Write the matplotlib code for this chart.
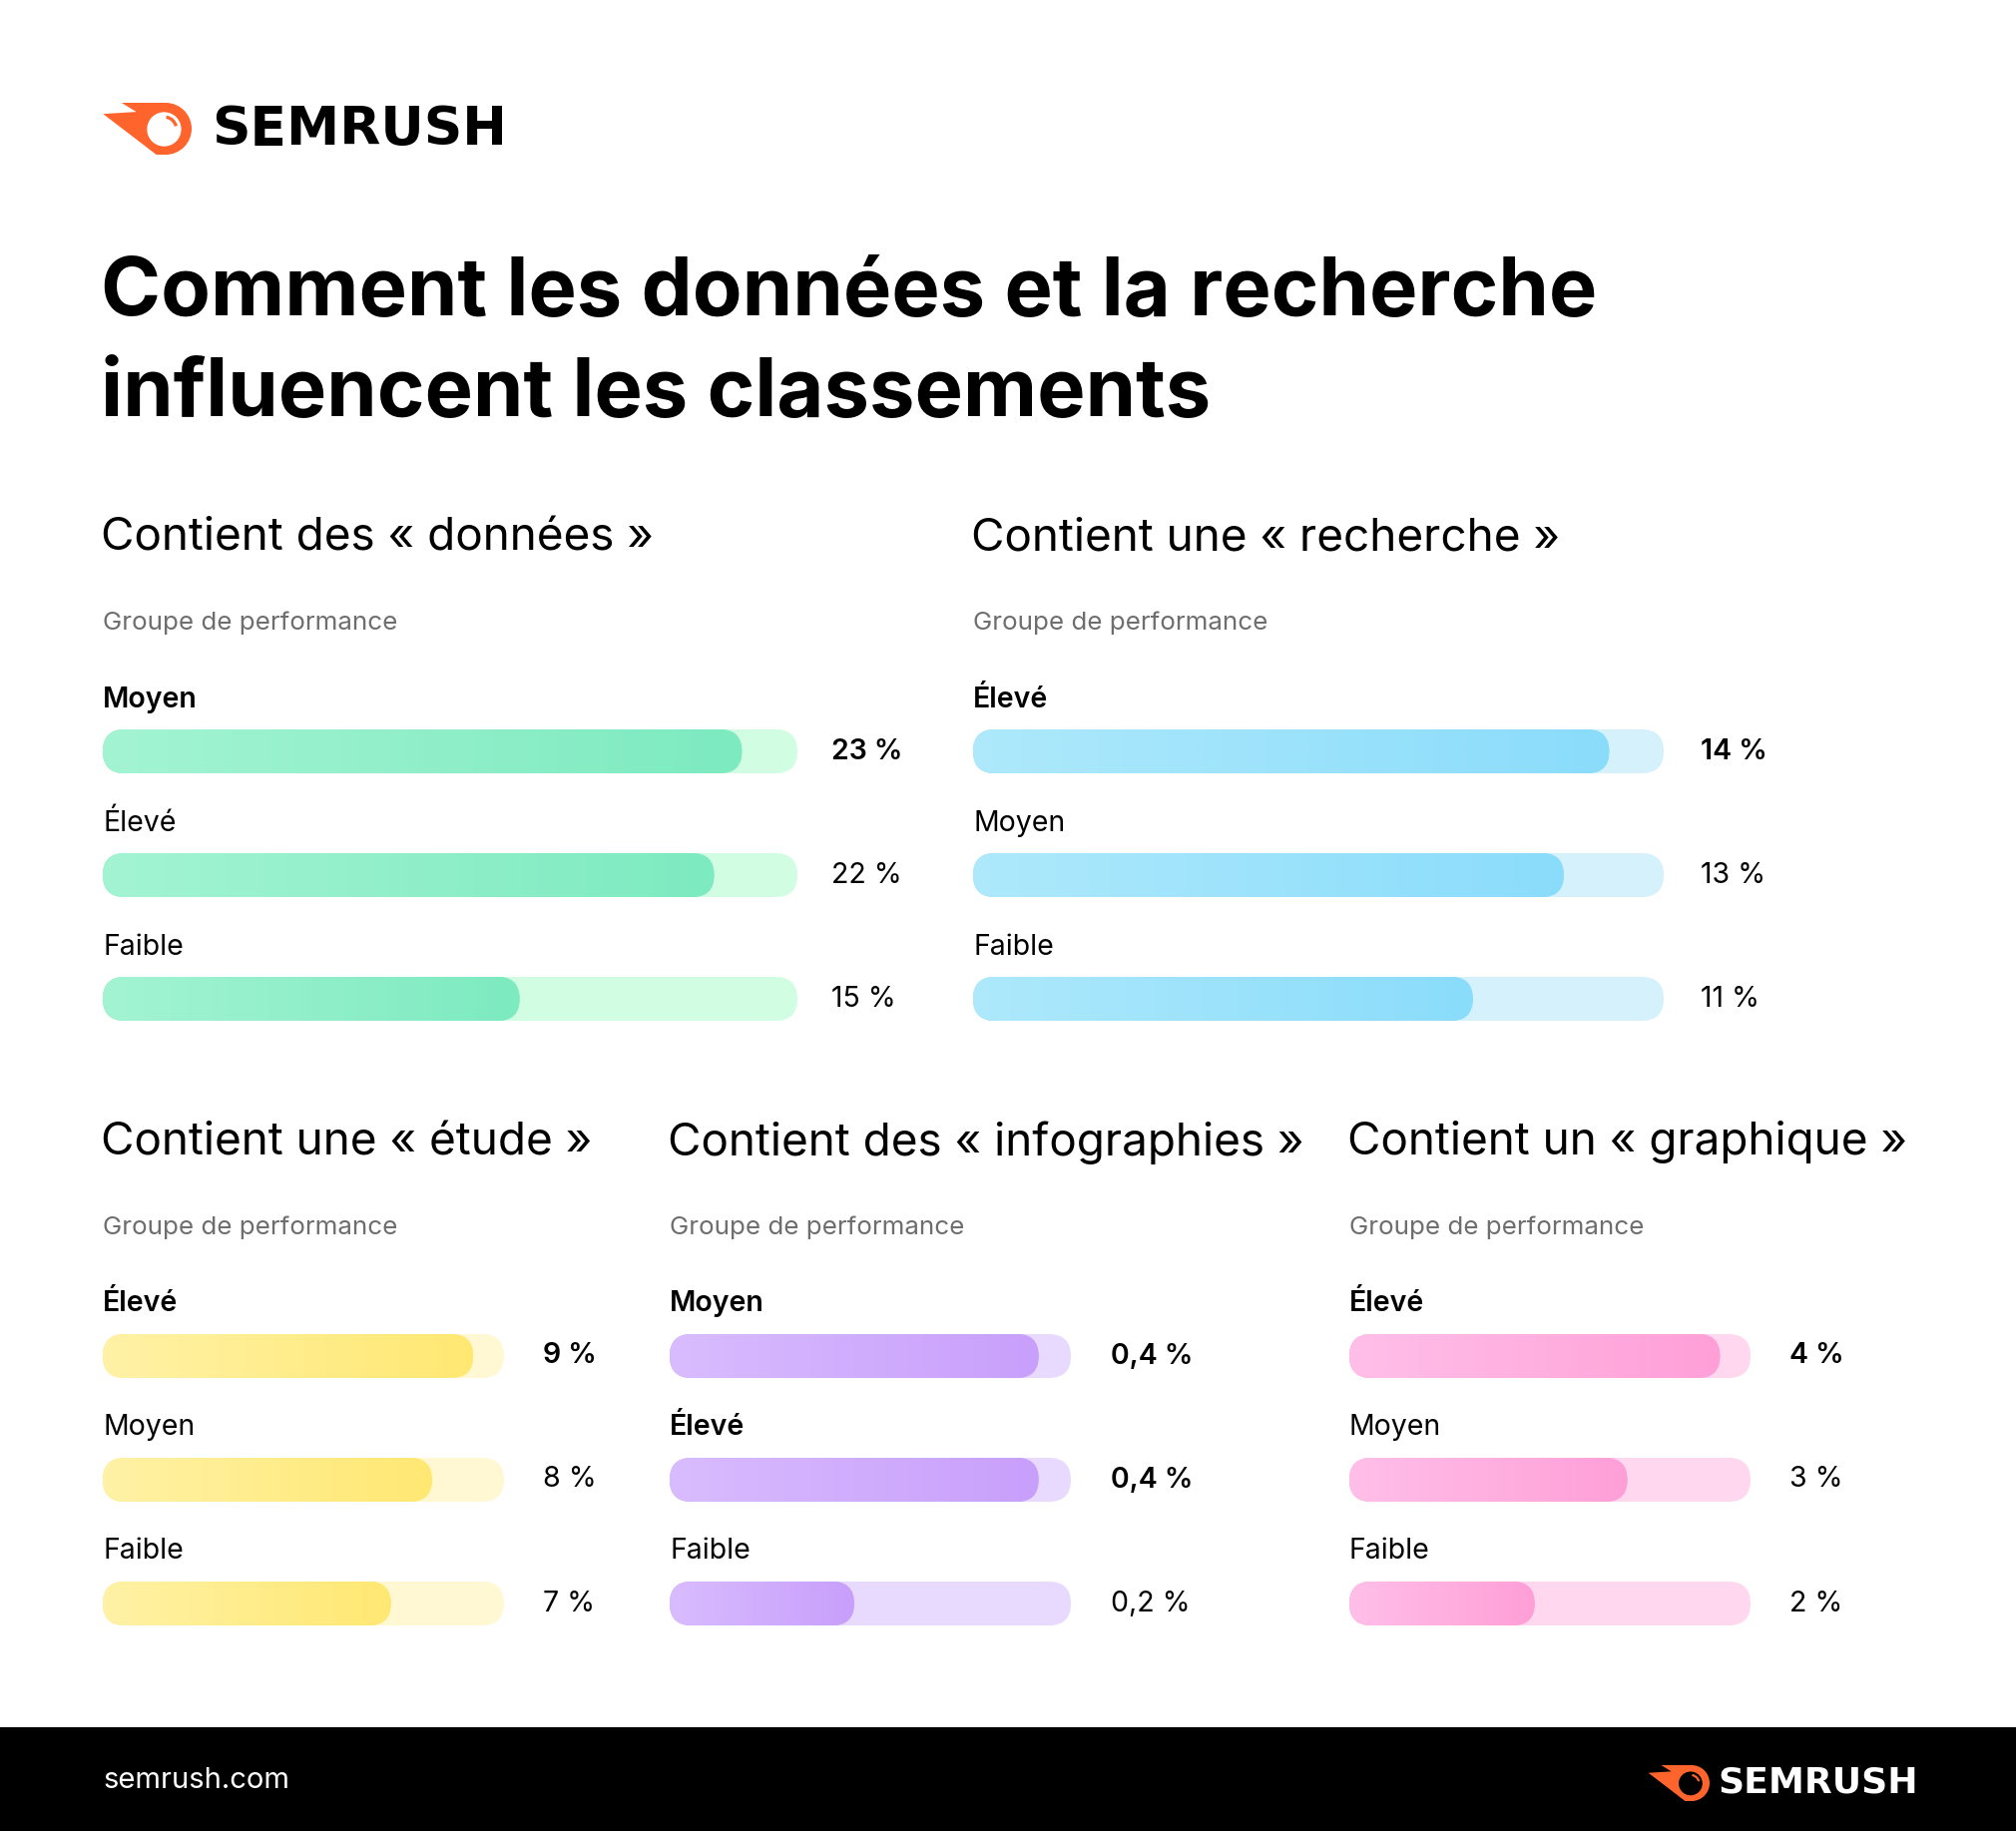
import matplotlib
matplotlib.use("Agg")
import matplotlib.pyplot as plt
import numpy as np
from matplotlib.patches import FancyBboxPatch, Circle, Polygon, Arc, Rectangle
from matplotlib.colors import LinearSegmentedColormap

plt.rcParams['font.family'] = ['Inter', 'DejaVu Sans']

W, H = 2020, 1835

# ---- data ----
title_lines = ["Comment les données et la recherche", "influencent les classements"]
subtitle = "Groupe de performance"

panel_titles = ["Contient des « données »", "Contient une « recherche »",
                "Contient une « étude »", "Contient des « infographies »",
                "Contient un « graphique »"]

donnees_groups = ["Moyen", "Élevé", "Faible"]
donnees_values = [23, 22, 15]

recherche_groups = ["Élevé", "Moyen", "Faible"]
recherche_values = [14, 13, 11]

etude_groups = ["Élevé", "Moyen", "Faible"]
etude_values = [9, 8, 7]

infographies_groups = ["Moyen", "Élevé", "Faible"]
infographies_values = [0.4, 0.4, 0.2]

graphique_groups = ["Élevé", "Moyen", "Faible"]
graphique_values = [4, 3, 2]

# full-track value of each panel (the top bar fills ~92 % of the track)
track_max = [25, 15.2, 9.75, 0.435, 4.33]

# ---- styles ----
fill_left = ["#a3f4d2", "#aee9fb", "#fff2a6", "#d9bcff", "#ffbfe9"]
fill_right = ["#7deac0", "#8adcfb", "#ffe872", "#c89ffb", "#ff9fd8"]
track_col = ["#d1fde3", "#d4f1fc", "#fff8d2", "#e8d9fe", "#ffd7ef"]

# layout in pixels: (left, track width, value x, title y, first bar y)
layout = [
    (103, 696, 833, 539, 753),
    (975, 692, 1704, 539, 753),
    (103, 402, 544, 1145, 1359),
    (671, 402, 1113, 1145, 1359),
    (1352, 402, 1793, 1145, 1359),
]
row_gap = 124
bar_h = 44

groups = [donnees_groups, recherche_groups, etude_groups, infographies_groups, graphique_groups]
values = [donnees_values, recherche_values, etude_values, infographies_values, graphique_values]

fig = plt.figure(figsize=(W / 100, H / 100), dpi=100)
fig.patch.set_facecolor("white")

bg = fig.add_axes([0, 0, 1, 1], zorder=0)
bg.set_xlim(0, W)
bg.set_ylim(H, 0)
bg.axis("off")


def fx(x):
    return x / W


def fy(y):
    return 1 - y / H


def draw_logo(ax, cx, cy, R, inner):
    orange = "#ff642d"
    pts = np.array([(-1.70, -1.0), (0, -1.0), (0, 1.0), (-0.36, 1.0),
                    (-2.41, -0.57), (-1.13, -0.65)])
    ax.add_patch(Polygon(np.c_[cx + pts[:, 0] * R, cy + pts[:, 1] * R],
                         closed=True, fc=orange, ec="none"))
    ax.add_patch(Circle((cx, cy), R, fc=orange, ec="none"))
    ax.add_patch(Circle((cx - 0.06 * R, cy + 0.02 * R), 0.66 * R, fc=inner, ec="none"))
    ax.add_patch(Arc((cx - 0.06 * R, cy + 0.02 * R), 0.95 * R, 0.95 * R,
                     theta1=-80, theta2=-15, color=orange, lw=R * 0.09))


# header logo
draw_logo(bg, 166, 129, 26, "white")
fig.text(fx(212), fy(130), "SEMRUSH", fontsize=38.5, fontweight="bold",
         family="DejaVu Sans", va="center", ha="left", color="black")

# title
fig.text(fx(101), fy(316), title_lines[0], fontsize=58.5, fontweight="bold",
         va="baseline", ha="left", color="black")
fig.text(fx(101), fy(417), title_lines[1], fontsize=58.5, fontweight="bold",
         va="baseline", ha="left", color="black")

# footer
bg.add_patch(Rectangle((0, 1731), W, H - 1731, fc="black", ec="none"))
fig.text(fx(103), fy(1784), "semrush.com", fontsize=21, color="white",
         va="center", ha="left")
draw_logo(bg, 1695, 1787, 18, "black")
fig.text(fx(1721), fy(1786), "SEMRUSH", fontsize=26, fontweight="bold",
         family="DejaVu Sans", va="center", ha="left", color="white")

grad = np.linspace(0, 1, 256).reshape(1, -1)

for k in range(5):
    x0, tw, vx, ty, by = layout[k]
    vals = values[k]
    xmax = track_max[k]
    top_val = max(vals)

    fig.text(fx(x0 - 2), fy(ty), panel_titles[k], fontsize=33,
             va="center", ha="left", color="black")
    fig.text(fx(x0), fy(ty + 85), subtitle, fontsize=18.7, color="#6e6e6e",
             va="center", ha="left")

    # axes: 1 y-unit = one row
    top = by - 1.0 * row_gap
    bottom = by + 2.5 * row_gap
    ax = fig.add_axes([fx(x0), fy(bottom), tw / W, (bottom - top) / H], zorder=2)
    ax.set_xlim(0, xmax)
    ax.set_ylim(2.5, -1.0)
    ax.axis("off")

    h = bar_h / row_gap
    r_x = (bar_h / 2) * xmax / tw
    asp = (bar_h / 2 / row_gap) / r_x
    cmap = LinearSegmentedColormap.from_list("g%d" % k, [fill_left[k], fill_right[k]])

    for i, v in enumerate(vals):
        track = FancyBboxPatch((0, i - h / 2), xmax, h,
                               boxstyle="round,pad=0,rounding_size=%f" % r_x,
                               mutation_aspect=asp, fc=track_col[k], ec="none", zorder=1)
        ax.add_patch(track)
        fill = FancyBboxPatch((0, i - h / 2), v, h,
                              boxstyle="round,pad=0,rounding_size=%f" % r_x,
                              mutation_aspect=asp, fc=fill_right[k], ec="none", zorder=2)
        ax.add_patch(fill)
        im = ax.imshow(grad, extent=(0, v, i + h / 2, i - h / 2), cmap=cmap,
                       aspect="auto", interpolation="bilinear", zorder=3)
        im.set_clip_path(fill)

        strong = v == top_val
        wt = "semibold" if strong else "normal"
        ax.text(0, i - 52 / row_gap, groups[k][i], fontsize=20.5, fontweight=wt,
                va="center", ha="left", color="black")
        lab = ("%g" % v).replace(".", ",") + " %"
        ax.text((vx - x0) / tw, i, lab, transform=ax.get_yaxis_transform(),
                fontsize=20.5, fontweight=wt, va="center", ha="left", color="black")
    ax.set_xlim(0, xmax)
    ax.set_ylim(2.5, -1.0)

fig.savefig("out.png", dpi=100, facecolor="white")
